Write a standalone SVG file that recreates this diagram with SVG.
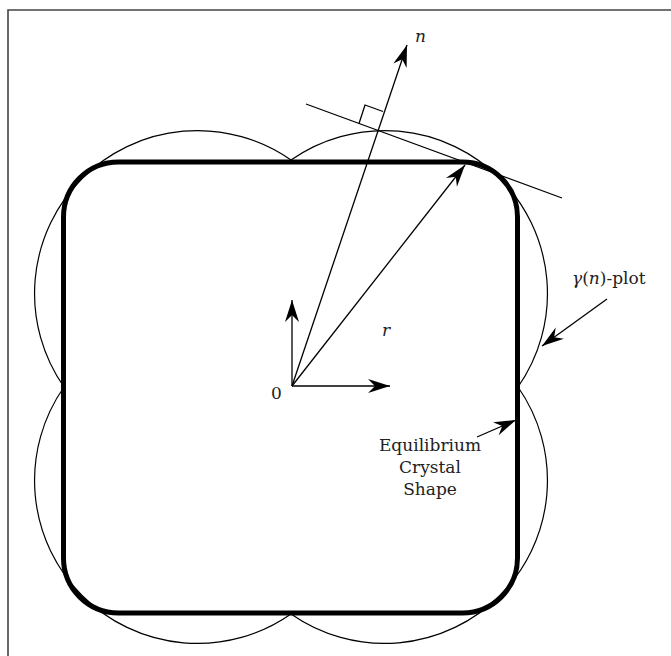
<svg xmlns="http://www.w3.org/2000/svg" width="671" height="656" viewBox="0 0 671 656">
<style>
.thin{fill:none;stroke:#000;stroke-width:1.2}
.thick{fill:none;stroke:#000;stroke-width:5}
.ar{fill:none;stroke:#000;stroke-width:1.3}
.lbl{font-family:"DejaVu Serif",serif;font-size:17px;fill:#222}
.it{font-style:italic}
</style>
<defs>
<marker id="ah" viewBox="-23 -8 24 16" refX="0" refY="0" markerWidth="24" markerHeight="16" orient="auto" markerUnits="userSpaceOnUse">
<path d="M0,0 L-22,-7 L-15,0 L-22,7 Z" fill="#000"/>
</marker>
</defs>
<rect width="671" height="656" fill="#fff"/>
<g id="frame"><path d="M8,656 L8,10 L671,10" fill="none" stroke="#444" stroke-width="1.6"/></g>
<g id="gamma-plot"><path class="thin" d="M291,160 A163,163 0 0 1 518,387 A163,163 0 0 1 291,614 A163,163 0 0 1 64,387 A163,163 0 0 1 291,160 Z"/></g>
<g id="crystal-shape"><rect class="thick" x="63.5" y="162" width="454" height="451" rx="55" ry="55"/></g>
<g id="connectors">
<line class="ar" x1="292" y1="386" x2="292" y2="300" marker-end="url(#ah)"/>
<line class="ar" x1="292" y1="386" x2="390" y2="386" marker-end="url(#ah)"/>
<line class="ar" x1="292" y1="386" x2="407" y2="45" marker-end="url(#ah)"/>
<line class="ar" x1="292" y1="386" x2="465" y2="165" marker-end="url(#ah)"/>
<line class="ar" x1="607" y1="299" x2="542" y2="346" marker-end="url(#ah)"/>
<line class="ar" x1="477" y1="437" x2="516" y2="420" marker-end="url(#ah)"/>
<line class="ar" x1="306" y1="104" x2="562" y2="198"/>
<polyline class="ar" points="359,123.5 365,105 383,111.5"/>
</g>
<g id="labels">
<text class="lbl it" x="415" y="42" font-size="20">n</text>
<text class="lbl it" x="382" y="336">r</text>
<text class="lbl" x="271" y="399">0</text>
<text class="lbl" x="572" y="284" font-size="18"><tspan class="it">γ</tspan>(<tspan class="it">n</tspan>)-plot</text>
<text class="lbl" text-anchor="middle" x="430" y="451" font-size="15">Equilibrium</text>
<text class="lbl" text-anchor="middle" x="430" y="473" font-size="15">Crystal</text>
<text class="lbl" text-anchor="middle" x="430" y="495" font-size="15">Shape</text>
</g>
</svg>
